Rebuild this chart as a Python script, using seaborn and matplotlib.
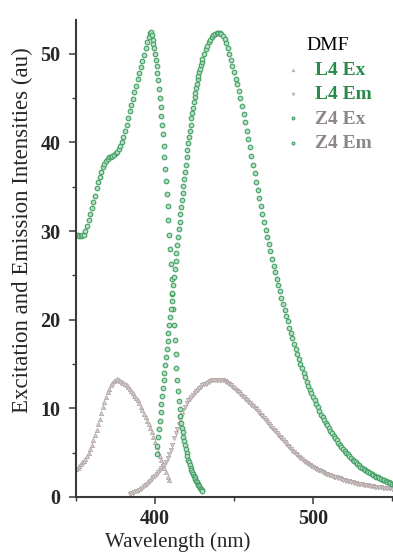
import numpy as np
import pandas as pd
import matplotlib
matplotlib.use("Agg")
import matplotlib.pyplot as plt
from matplotlib.ticker import MultipleLocator
import seaborn as sns

# ---------------- data ----------------
# Z4 excitation: 1 nm grid 350-396, then 0.5 nm grid 397-430
z4_ex_wl = np.concatenate([np.arange(350, 397, 1.0), np.arange(397, 430.25, 0.5)])
z4_ex = [29.6, 29.5, 29.4, 29.4, 29.5, 29.6, 30.0, 30.6, 31.2, 31.9,
         32.6, 33.3, 34.0, 34.8, 35.5, 36.1, 36.7, 37.2, 37.6, 37.9,
         38.1, 38.3, 38.4, 38.5, 38.6, 38.8, 38.9, 39.2, 39.6, 40.0,
         40.6, 41.3, 42.0, 42.8, 43.5, 44.2, 44.9, 45.7, 46.4, 47.1,
         47.8, 48.5, 49.2, 49.9, 50.6, 51.3, 51.9,
         52.3, 52.4, 52.1, 51.6, 51.1, 50.6, 50.0, 49.3, 48.6, 47.8,
         47.0, 46.0, 45.0, 44.0, 43.0, 42.0, 40.9, 39.6, 38.3, 37.0,
         35.6, 34.2, 32.8, 31.2, 29.6, 28.0, 26.3, 24.6, 22.9, 21.2,
         19.4, 17.7, 16.1, 14.6, 13.2, 11.9, 10.8, 9.9, 9.1, 8.4,
         7.8, 7.3, 6.8, 6.3, 5.9, 5.4, 5.0, 4.6, 4.2, 3.9,
         3.6, 3.3, 3.0, 2.8, 2.6, 2.4, 2.2, 2.0, 1.8, 1.65,
         1.5, 1.35, 1.2, 1.05, 0.9, 0.75, 0.65]

# Z4 emission: 0.5 nm grid 401-430, then 1 nm grid 431-551
z4_em_wl = np.concatenate([np.arange(401, 430.25, 0.5), np.arange(431, 552, 1.0)])
z4_em = [4.8, 5.8, 6.8, 7.7, 8.6, 9.6, 10.5, 11.4, 12.3, 13.2,
         14.0, 14.9, 15.8, 16.7, 17.6, 18.5, 19.4, 20.3, 21.2, 22.1,
         23.0, 23.9, 24.8, 25.7, 26.6, 27.5, 28.4, 29.3, 30.2, 31.0,
         31.9, 32.7, 33.5, 34.3, 35.1, 35.9, 36.7, 37.5, 38.3, 39.1,
         39.9, 40.6, 41.3, 42.0, 42.7, 43.3, 43.9, 44.5, 45.1, 45.6,
         46.1, 46.6, 47.1, 47.5, 47.9, 48.3, 48.7, 49.1, 49.4,
         50.0, 50.5, 50.9, 51.3, 51.6, 51.9, 52.1, 52.2, 52.3, 52.3,
         52.3, 52.2, 52.0, 51.7, 51.2, 50.6, 50.0, 49.3, 48.6, 47.9,
         47.2, 46.6, 45.8, 45.0, 44.1, 43.2, 42.3, 41.3, 40.4, 39.5,
         38.5, 37.5, 36.5, 35.5, 34.6, 33.7, 32.8, 31.9, 31.0, 30.1,
         29.3, 28.5, 27.7, 26.9, 26.1, 25.4, 24.6, 23.9, 23.2, 22.5,
         21.8, 21.1, 20.4, 19.8, 19.1, 18.5, 17.9, 17.3, 16.7, 16.1,
         15.6, 15.0, 14.5, 14.0, 13.5, 13.0, 12.5, 12.1, 11.7, 11.3,
         10.9, 10.5, 10.1, 9.7, 9.3, 9.0, 8.7, 8.4, 8.1, 7.8,
         7.5, 7.2, 6.9, 6.6, 6.4, 6.1, 5.9, 5.6, 5.4, 5.2,
         5.0, 4.8, 4.6, 4.4, 4.2, 4.1, 3.9, 3.7, 3.6, 3.4,
         3.3, 3.2, 3.0, 2.9, 2.8, 2.7, 2.6, 2.5, 2.4, 2.3,
         2.2, 2.1, 2.0, 1.95, 1.9, 1.8, 1.7, 1.65, 1.6, 1.5,
         1.45]

# L4 excitation: 1 nm grid 350-409
l4_ex_wl = np.arange(350, 410, 1.0)
l4_ex = [3.2, 3.3, 3.5, 3.7, 3.9, 4.1, 4.3, 4.6, 5.0, 5.4,
         5.9, 6.4, 7.0, 7.6, 8.2, 8.8, 9.5, 10.1, 10.7, 11.3,
         11.8, 12.2, 12.6, 12.9, 13.1, 13.2, 13.3, 13.2, 13.1, 13.0,
         12.9, 12.8, 12.6, 12.4, 12.2, 11.9, 11.7, 11.4, 11.2, 10.9,
         10.6, 10.2, 9.8, 9.4, 9.0, 8.6, 8.2, 7.8, 7.3, 6.8,
         6.2, 5.6, 5.1, 4.6, 4.2, 3.7, 3.3, 2.8, 2.3, 1.9]

# L4 emission: 1 nm grid 384-551
l4_em_wl = np.arange(384, 552, 1.0)
l4_em = [0.35, 0.4, 0.5, 0.55, 0.65, 0.7, 0.8, 0.9, 1.05, 1.2,
         1.35, 1.5, 1.65, 1.8, 2.0, 2.2, 2.4, 2.6, 2.85, 3.05,
         3.25, 3.45, 3.65, 4.0, 4.4, 4.8, 5.3, 5.9, 6.6, 7.2,
         7.7, 8.2, 8.7, 9.3, 9.8, 10.2, 10.6, 10.9, 11.1, 11.3,
         11.5, 11.7, 11.9, 12.1, 12.3, 12.45, 12.6, 12.7, 12.8, 12.9,
         13.0, 13.1, 13.15, 13.2, 13.2, 13.25, 13.25, 13.2, 13.2, 13.15,
         13.1, 13.0, 12.9, 12.75, 12.6, 12.45, 12.3, 12.1, 11.95, 11.8,
         11.6, 11.4, 11.25, 11.1, 10.9, 10.75, 10.6, 10.4, 10.25, 10.05,
         9.9, 9.7, 9.5, 9.3, 9.1, 8.9, 8.7, 8.5, 8.25, 8.05,
         7.8, 7.6, 7.4, 7.2, 7.0, 6.8, 6.6, 6.4, 6.2, 6.0,
         5.8, 5.6, 5.4, 5.2, 5.05, 4.85, 4.7, 4.55, 4.4, 4.25,
         4.1, 4.0, 3.85, 3.75, 3.6, 3.5, 3.4, 3.3, 3.2, 3.1,
         3.0, 2.9, 2.8, 2.7, 2.65, 2.55, 2.5, 2.45, 2.4, 2.3,
         2.25, 2.2, 2.15, 2.1, 2.0, 1.95, 1.9, 1.85, 1.8, 1.75,
         1.7, 1.65, 1.6, 1.55, 1.5, 1.48, 1.45, 1.42, 1.39, 1.36,
         1.33, 1.3, 1.27, 1.24, 1.21, 1.18, 1.15, 1.13, 1.11, 1.09,
         1.07, 1.05, 1.03, 1.01, 0.99, 0.97, 0.95, 0.93]

series_labels = ["L4 Ex", "L4 Em", "Z4 Ex", "Z4 Em"]
legend_title = "DMF"
x_label = "Wavelength (nm)"
y_label = "Excitation and Emission Intensities (au)"

# ---------------- styling ----------------
sns.set_style("ticks")
plt.rcParams["font.family"] = ["Liberation Serif", "DejaVu Serif"]

GREEN_EDGE = "#42a064"
GREEN_FACE = "#b8dec4"
GRAY_EDGE = "#b4a8a8"
GRAY_FACE = "#d8d0d0"
GREEN_TEXT = "#2a8a4a"
GRAY_TEXT = "#8e8686"
AXIS_COL = "#3a3a3a"

fig = plt.figure(figsize=(3.93, 5.54), dpi=100)
ax = fig.add_axes([76 / 393, 1 - 497 / 554, (393 - 76) / 393, (497 - 20) / 554])

df = pd.concat([
    pd.DataFrame({"wl": l4_ex_wl, "I": l4_ex, "s": "L4 Ex"}),
    pd.DataFrame({"wl": l4_em_wl, "I": l4_em, "s": "L4 Em"}),
    pd.DataFrame({"wl": z4_ex_wl, "I": z4_ex, "s": "Z4 Ex"}),
    pd.DataFrame({"wl": z4_em_wl, "I": z4_em, "s": "Z4 Em"}),
])

styles = {
    "L4 Ex": dict(marker="^", s=9, color=GRAY_FACE, edgecolor=GRAY_EDGE, linewidth=0.6),
    "L4 Em": dict(marker="v", s=9, color=GRAY_FACE, edgecolor=GRAY_EDGE, linewidth=0.6),
    "Z4 Ex": dict(marker="o", s=11, color=GREEN_FACE, edgecolor=GREEN_EDGE, linewidth=0.8),
    "Z4 Em": dict(marker="o", s=11, color=GREEN_FACE, edgecolor=GREEN_EDGE, linewidth=0.8),
}
for name in series_labels:
    sub = df[df["s"] == name]
    sns.scatterplot(data=sub, x="wl", y="I", ax=ax, label=name, clip_on=True, **styles[name])

ax.set_xlim(350, 550.6)
ax.set_ylim(0, 53.8)
ax.xaxis.set_major_locator(MultipleLocator(100))
ax.xaxis.set_minor_locator(MultipleLocator(50))
ax.yaxis.set_major_locator(MultipleLocator(10))
ax.yaxis.set_minor_locator(MultipleLocator(5))

for side in ["top", "right"]:
    ax.spines[side].set_visible(False)
for side in ["left", "bottom"]:
    ax.spines[side].set_color(AXIS_COL)
    ax.spines[side].set_linewidth(1.5)

ax.tick_params(which="major", direction="out", length=5, width=1.1, color=AXIS_COL,
               labelsize=14.5, pad=4)
ax.tick_params(axis="y", which="major", pad=6)
ax.tick_params(which="minor", direction="out", length=3, width=1.0, color=AXIS_COL)
for lab in ax.get_xticklabels() + ax.get_yticklabels():
    lab.set_fontweight("bold")

ax.set_xlabel(x_label, fontsize=15)
ax.set_ylabel(y_label, fontsize=16.5)
ax.yaxis.set_label_coords(-0.135, 0.56)
ax.xaxis.set_label_coords(0.32, -0.074)

leg = ax.legend(title=legend_title, frameon=False, loc="upper left",
                bbox_to_anchor=(0.63, 0.98), fontsize=14, title_fontsize=14,
                handletextpad=0.6, labelspacing=0.35, markerscale=0.6,
                handlelength=1.0, borderaxespad=0)
leg._legend_box.align = "center"
text_cols = [GREEN_TEXT, GREEN_TEXT, GRAY_TEXT, GRAY_TEXT]
for t, c in zip(leg.get_texts(), text_cols):
    t.set_color(c)
    t.set_fontweight("bold")
leg.get_title().set_color("black")

fig.savefig("out.png", dpi=100)
